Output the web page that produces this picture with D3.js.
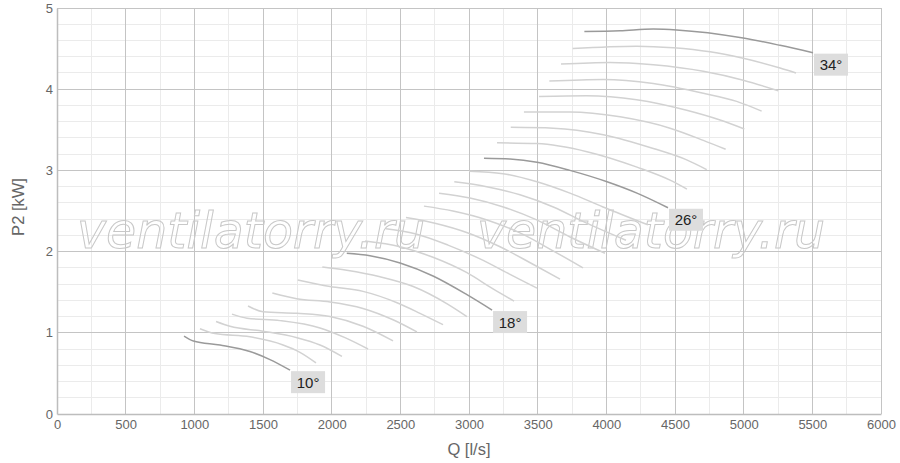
<!DOCTYPE html>
<html>
<head>
<meta charset="utf-8">
<script src="https://cdn.jsdelivr.net/npm/d3@7"></script>
<style>
  html, body { margin: 0; padding: 0; background: #fff; }
  svg { display: block; font-family: "Liberation Sans", Arial, sans-serif; }
</style>
</head>
<body>
<svg id="chart" width="900" height="463"></svg>
<script>
// ---- data (blade angle curves: Q [l/s] vs P2 [kW]) ----
const angles = [10,11,12,13,14,15,16,17,18,19,20,21,22,23,24,25,26,27,28,29,30,31,32,33,34];
const labelledAngles = [10, 18, 26, 34];

const Q10 = [925, 993, 1187, 1405, 1551, 1697];
const P10 = [0.96, 0.90, 0.85, 0.77, 0.67, 0.54];
const Q11 = [1041, 1150, 1405, 1646, 1769, 1886];
const P11 = [1.05, 0.99, 0.95, 0.85, 0.76, 0.63];
const Q12 = [1158, 1260, 1500, 1748, 1915, 2075];
const P12 = [1.14, 1.08, 1.02, 0.94, 0.85, 0.71];
const Q13 = [1274, 1384, 1624, 1915, 2097, 2265];
const P13 = [1.23, 1.18, 1.15, 1.06, 0.94, 0.80];
const Q14 = [1391, 1500, 1748, 1988, 2228, 2447];
const P14 = [1.33, 1.26, 1.24, 1.20, 1.08, 0.90];
const Q15 = [1568, 1745, 1988, 2228, 2447, 2621];
const P15 = [1.49, 1.42, 1.38, 1.30, 1.16, 1.01];
const Q16 = [1753, 1988, 2228, 2476, 2643, 2811];
const P16 = [1.65, 1.57, 1.51, 1.37, 1.24, 1.10];
const Q17 = [1932, 2110, 2352, 2594, 2838, 2985];
const P17 = [1.81, 1.77, 1.69, 1.57, 1.36, 1.20];
const Q18 = [2110, 2279, 2498, 2738, 2985, 3168];
const P18 = [1.98, 1.95, 1.86, 1.70, 1.47, 1.28];
const Q19 = [2243, 2498, 2738, 2985, 3175, 3328];
const P19 = [2.13, 2.06, 1.93, 1.74, 1.54, 1.39];
const Q20 = [2396, 2607, 2847, 3080, 3299, 3495];
const P20 = [2.28, 2.22, 2.08, 1.91, 1.72, 1.55];
const Q21 = [2541, 2752, 2993, 3226, 3459, 3663];
const P21 = [2.42, 2.35, 2.23, 2.06, 1.85, 1.66];
const Q22 = [2672, 2883, 3131, 3371, 3612, 3830];
const P22 = [2.56, 2.50, 2.39, 2.23, 2.01, 1.80];
const Q23 = [2782, 3007, 3250, 3493, 3736, 3990];
const P23 = [2.72, 2.66, 2.55, 2.39, 2.18, 1.98];
const Q24 = [2893, 3129, 3371, 3614, 3857, 4143];
const P24 = [2.86, 2.80, 2.70, 2.55, 2.35, 2.14];
const Q25 = [3000, 3248, 3495, 3735, 3976, 4303];
const P25 = [2.99, 2.96, 2.86, 2.72, 2.55, 2.33];
const Q26 = [3109, 3299, 3495, 3735, 4005, 4223, 4449];
const P26 = [3.15, 3.14, 3.10, 3.00, 2.86, 2.72, 2.54];
const Q27 = [3204, 3495, 3859, 4223, 4464, 4587];
const P27 = [3.34, 3.33, 3.23, 3.04, 2.88, 2.77];
const Q28 = [3304, 3614, 3978, 4342, 4585, 4731];
const P28 = [3.53, 3.52, 3.44, 3.27, 3.13, 3.01];
const Q29 = [3400, 3735, 4100, 4464, 4706, 4869];
const P29 = [3.72, 3.72, 3.66, 3.52, 3.37, 3.26];
const Q30 = [3510, 3857, 4221, 4585, 4828, 5005];
const P30 = [3.91, 3.92, 3.87, 3.74, 3.62, 3.51];
const Q31 = [3585, 3978, 4342, 4706, 4949, 5131];
const P31 = [4.10, 4.12, 4.07, 3.95, 3.85, 3.73];
const Q32 = [3670, 4027, 4342, 4706, 4997, 5252];
const P32 = [4.31, 4.33, 4.30, 4.22, 4.11, 3.98];
const Q33 = [3755, 4221, 4488, 4755, 4997, 5265, 5381];
const P33 = [4.50, 4.53, 4.51, 4.46, 4.38, 4.26, 4.20];
const Q34 = [3840, 4100, 4342, 4512, 4997, 5265, 5505];
const P34 = [4.71, 4.72, 4.74, 4.73, 4.63, 4.54, 4.45];

const xTicks = [0, 500, 1000, 1500, 2000, 2500, 3000, 3500, 4000, 4500, 5000, 5500, 6000];
const yTicks = [0, 1, 2, 3, 4, 5];
const xTitle = "Q [l/s]";
const yTitle = "P2 [kW]";
const watermark = "ventilatorry.ru";

const qList = [Q10,Q11,Q12,Q13,Q14,Q15,Q16,Q17,Q18,Q19,Q20,Q21,Q22,Q23,Q24,Q25,Q26,Q27,Q28,Q29,Q30,Q31,Q32,Q33,Q34];
const pList = [P10,P11,P12,P13,P14,P15,P16,P17,P18,P19,P20,P21,P22,P23,P24,P25,P26,P27,P28,P29,P30,P31,P32,P33,P34];
const series = angles.map((a, i) => ({
  angle: a,
  pts: qList[i].map((q, j) => ({ q, p: pList[i][j] }))
}));

// ---- layout ----
const W = 900, H = 463;
const margin = { left: 57, right: 19, top: 8, bottom: 49 };
const svg = d3.select("#chart");
const x = d3.scaleLinear().domain([0, 6000]).range([margin.left, W - margin.right]);
const y = d3.scaleLinear().domain([0, 5]).range([H - margin.bottom, margin.top]);

// minor grid
const g = svg.append("g");
g.selectAll("line.minx").data(d3.range(250, 6000, 500)).enter().append("line")
  .attr("x1", d => x(d)).attr("x2", d => x(d))
  .attr("y1", y(0)).attr("y2", y(5))
  .attr("stroke", "#ebebeb").attr("stroke-width", 1).attr("shape-rendering", "crispEdges");
g.selectAll("line.miny").data(d3.range(0, 25).filter(i => i % 5 !== 0).map(i => i * 0.2)).enter().append("line")
  .attr("x1", x(0)).attr("x2", x(6000))
  .attr("y1", d => y(d)).attr("y2", d => y(d))
  .attr("stroke", "#ebebeb").attr("stroke-width", 1).attr("shape-rendering", "crispEdges");

// major grid
g.selectAll("line.majx").data(xTicks.slice(1)).enter().append("line")
  .attr("x1", d => x(d)).attr("x2", d => x(d))
  .attr("y1", y(0)).attr("y2", y(5))
  .attr("stroke", "#c4c4c4").attr("stroke-width", 1).attr("shape-rendering", "crispEdges");
g.selectAll("line.majy").data(yTicks.slice(1)).enter().append("line")
  .attr("x1", x(0)).attr("x2", x(6000))
  .attr("y1", d => y(d)).attr("y2", d => y(d))
  .attr("stroke", "#c4c4c4").attr("stroke-width", 1).attr("shape-rendering", "crispEdges");

// axes
const xAxis = d3.axisBottom(x).tickValues(xTicks).tickFormat(d => String(d)).tickSize(0).tickPadding(6);
const yAxis = d3.axisLeft(y).tickValues(yTicks).tickFormat(d => String(d)).tickSize(0).tickPadding(4);
const gx = svg.append("g").attr("transform", `translate(0,${y(0)})`).call(xAxis);
const gy = svg.append("g").attr("transform", `translate(${x(0)},0)`).call(yAxis);
[gx, gy].forEach(a => {
  a.select(".domain").attr("stroke", "#bdbdbd").attr("stroke-width", 1.5);
  a.selectAll("text").attr("fill", "#666").style("font-size", "13px")
    .style("font-family", '"Liberation Sans", Arial, sans-serif');
});
gy.selectAll(".tick text").attr("dy", "0.32em");
gx.selectAll(".tick text").attr("dy", "0.71em");

svg.append("text").attr("x", 469).attr("y", 455).attr("text-anchor", "middle")
  .attr("fill", "#666").style("font-size", "16.5px").text(xTitle);
svg.append("text").attr("transform", "translate(24,207) rotate(-90)").attr("text-anchor", "middle")
  .attr("fill", "#666").style("font-size", "16.5px").text(yTitle);

// watermark
[77, 477].forEach(wx => {
  svg.append("text").attr("x", wx).attr("y", 248)
    .attr("fill", "none").attr("stroke", "#c8c8c8").attr("stroke-width", 1)
    .style("font-family", '"DejaVu Sans", sans-serif').style("font-style", "oblique")
    .style("font-size", "49px").text(watermark);
});

// curves
const line = d3.line().x(d => x(d.q)).y(d => y(d.p)).curve(d3.curveMonotoneX);
const light = series.filter(s => !labelledAngles.includes(s.angle));
const dark = series.filter(s => labelledAngles.includes(s.angle));
svg.append("g").selectAll("path").data(light).enter().append("path")
  .attr("d", d => line(d.pts)).attr("fill", "none")
  .attr("stroke", "#d2d2d2").attr("stroke-width", 1.5);
svg.append("g").selectAll("path").data(dark).enter().append("path")
  .attr("d", d => line(d.pts)).attr("fill", "none")
  .attr("stroke", "#9a9a9a").attr("stroke-width", 1.5);

// labels at curve ends
const lg = svg.append("g").selectAll("g").data(dark).enter().append("g")
  .attr("transform", d => {
    const e = d.pts[d.pts.length - 1];
    return `translate(${x(e.q) + 1},${y(e.p) + 1})`;
  });
lg.append("rect").attr("width", 34).attr("height", 22).attr("fill", "#dddddd");
lg.append("text").attr("x", 17).attr("y", 16.5).attr("text-anchor", "middle")
  .attr("fill", "#222").style("font-size", "15px").text(d => d.angle + "°");
</script>
</body>
</html>
